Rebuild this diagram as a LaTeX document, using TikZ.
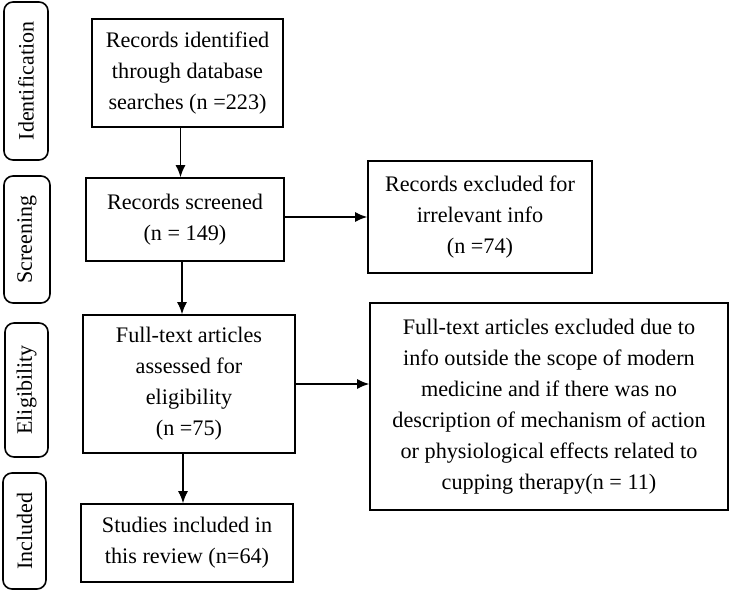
\documentclass[tikz,border=0pt]{standalone}
\usepackage{fontspec}
\setmainfont{Liberation Serif}
\usetikzlibrary{arrows.meta}

\begin{document}
\begin{tikzpicture}[x=1pt, y=-1pt,
  flowbox/.style={rectangle, draw, line width=1.6pt, align=center, inner sep=0pt,
                  font=\fontsize{22.2}{31}\selectfont},
  stagebox/.style={rectangle, rounded corners=9pt, draw, line width=1.6pt, rotate=90,
                   inner sep=0pt, font=\fontsize{22}{24}\selectfont},
  arr/.style={-{Latex[length=12pt, width=10pt]}, line width=1.5pt}]
\useasboundingbox (0,0) rectangle (731,596);

  % stage labels
  \node[stagebox, minimum width=158pt, minimum height=44pt] (stageid)   at (26,81)    {Identification};
  \node[stagebox, minimum width=127pt, minimum height=46pt] (stagescr)  at (27,239.5) {Screening};
  \node[stagebox, minimum width=134pt, minimum height=43pt] (stageelig) at (26.5,390) {Eligibility};
  \node[stagebox, minimum width=116pt, minimum height=43pt] (stageincl) at (24.5,531) {Included};

  % main column
  \node[flowbox, minimum width=191pt, minimum height=108pt] (ident) at (187.5,73)
        {Records identified\\ through database\\ searches (n =223)};
  \node[flowbox, minimum width=198pt, minimum height=83pt] (screen) at (185,219.5)
        {Records screened\\ (n = 149)};
  \node[flowbox, minimum width=212pt, minimum height=138pt] (fulltext) at (189,384)
        {Full-text articles\\ assessed for\\ eligibility\\ (n =75)};
  \node[flowbox, minimum width=212pt, minimum height=78pt] (studies) at (187,543)
        {Studies included in\\ this review (n=64)};

  % exclusions
  \node[flowbox, minimum width=224pt, minimum height=112pt] (excl1) at (480,217)
        {Records excluded for\\ irrelevant info\\ (n =74)};
  \node[flowbox, minimum width=358pt, minimum height=207pt] (excl2) at (549,406.5)
        {Full-text articles excluded due to\\ info outside the scope of modern\\
         medicine and if there was no\\ description of mechanism of action\\
         or physiological effects related to\\ cupping therapy(n = 11)};

  % arrows
  \draw[arr] ([xshift=-7pt]ident.south) -- ([xshift=-7pt]ident.south |- screen.north);
  \draw[arr] ([xshift=-3pt]screen.south) -- ([xshift=-3pt]screen.south |- fulltext.north);
  \draw[arr] ([xshift=-6pt]fulltext.south) -- ([xshift=-6pt]fulltext.south |- studies.north);
  \draw[arr] (screen.east |- excl1.west) -- (excl1.west);
  \draw[arr] (fulltext.east) -- (fulltext.east -| excl2.west);

\end{tikzpicture}
\end{document}
